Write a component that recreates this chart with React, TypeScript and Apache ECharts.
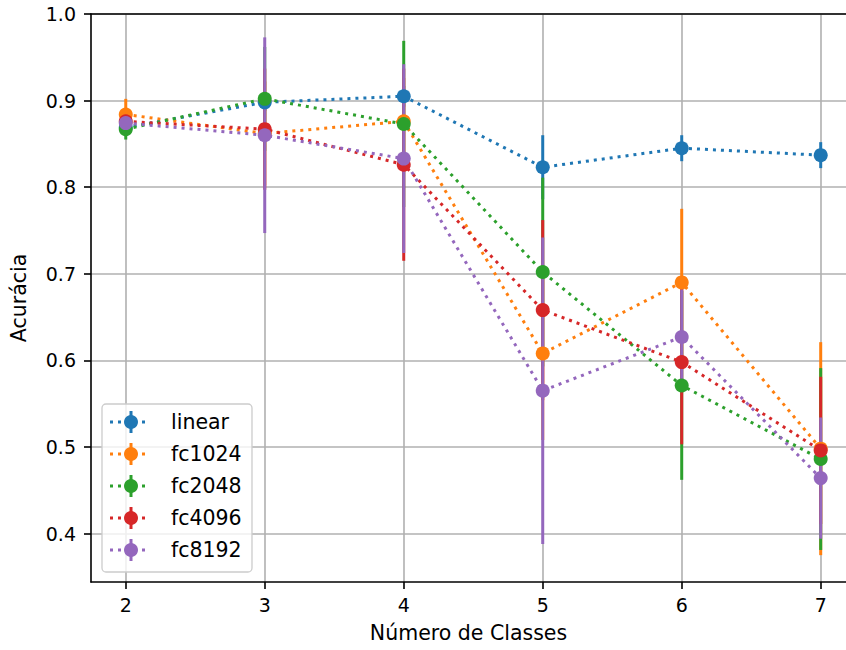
import React, { useEffect, useRef } from "react";
import * as echarts from "echarts";

const xValues = [2, 3, 4, 5, 6, 7];
const xTicks = [2, 3, 4, 5, 6, 7];
const yTicks = [0.4, 0.5, 0.6, 0.7, 0.8, 0.9, 1.0];

const seriesNames = ["linear", "fc1024", "fc2048", "fc4096", "fc8192"];
const seriesColors = ["#1f77b4", "#ff7f0e", "#2ca02c", "#d62728", "#9467bd"];

const linearMean = [0.869, 0.898, 0.905, 0.823, 0.845, 0.837];
const linearErr = [0.008, 0.01, 0.012, 0.037, 0.015, 0.015];
const fc1024Mean = [0.884, 0.862, 0.876, 0.608, 0.69, 0.498];
const fc1024Err = [0.018, 0.06, 0.05, 0.1, 0.085, 0.123];
const fc2048Mean = [0.867, 0.902, 0.873, 0.702, 0.571, 0.486];
const fc2048Err = [0.012, 0.06, 0.096, 0.109, 0.109, 0.105];
const fc4096Mean = [0.876, 0.867, 0.826, 0.658, 0.598, 0.496];
const fc4096Err = [0.01, 0.07, 0.111, 0.104, 0.095, 0.085];
const fc8192Mean = [0.874, 0.86, 0.833, 0.565, 0.627, 0.464];
const fc8192Err = [0.008, 0.113, 0.109, 0.177, 0.055, 0.07];

const means = [linearMean, fc1024Mean, fc2048Mean, fc4096Mean, fc8192Mean];
const errs = [linearErr, fc1024Err, fc2048Err, fc4096Err, fc8192Err];

const FONT = "DejaVu Sans";
const TICK_FS = 19;
const LABEL_FS = 20.5;
const X_MIN = 1.75;
const X_MAX = 7.182;
const Y_MIN = 0.344;
const Y_MAX = 1.0;

export default function App() {
  const ref = useRef<HTMLDivElement>(null);
  useEffect(() => {
    if (!ref.current) return;
    const chart = echarts.init(ref.current, undefined, { renderer: "svg" });

    const errSeries = seriesNames.map((name, si) => ({
      type: "custom",
      name: name + "_err",
      z: 2,
      silent: true,
      data: xValues.map((x, i) => [x, means[si][i] - errs[si][i], means[si][i] + errs[si][i]]),
      encode: { x: 0, y: [1, 2] },
      renderItem: (params: any, api: any) => {
        const x = api.value(0);
        const lo = api.coord([x, api.value(1)]);
        const hi = api.coord([x, api.value(2)]);
        return {
          type: "line",
          shape: { x1: lo[0], y1: lo[1], x2: hi[0], y2: hi[1] },
          style: { stroke: seriesColors[si], lineWidth: 3 },
        };
      },
    }));

    const lineSeries = seriesNames.map((name, si) => ({
      type: "line",
      name,
      z: 3,
      silent: true,
      data: xValues.map((x, i) => [x, means[si][i]]),
      symbol: "circle",
      symbolSize: 14,
      showSymbol: true,
      itemStyle: { color: seriesColors[si] },
      lineStyle: { color: seriesColors[si], width: 3, type: [3, 5], cap: "butt" },
      emphasis: { disabled: true },
    }));

    const legendX = 102;
    const legendY = 404;
    const rowH = 32;
    const legendElems: any[] = [
      {
        type: "rect",
        shape: { x: legendX, y: legendY, width: 150, height: 168, r: 4 },
        style: { fill: "rgba(255,255,255,0.8)", stroke: "#cccccc", lineWidth: 1.3 },
        z: 10,
      },
    ];
    seriesNames.forEach((name, si) => {
      const cy = legendY + 18 + si * rowH;
      const c = seriesColors[si];
      legendElems.push({
        type: "line",
        shape: { x1: 110, y1: cy, x2: 150, y2: cy },
        style: { stroke: c, lineWidth: 3, lineDash: [3, 5] },
        z: 11,
      });
      legendElems.push({
        type: "line",
        shape: { x1: 131, y1: cy - 11, x2: 131, y2: cy + 11 },
        style: { stroke: c, lineWidth: 3 },
        z: 11,
      });
      legendElems.push({
        type: "circle",
        shape: { cx: 131, cy, r: 7 },
        style: { fill: c },
        z: 12,
      });
      legendElems.push({
        type: "text",
        x: 171,
        y: cy,
        style: {
          text: name,
          fontFamily: FONT,
          fontSize: LABEL_FS,
          fill: "#000",
          verticalAlign: "middle",
          align: "left",
        },
        z: 12,
      });
    });

    const axisLineStyle = { color: "#000", width: 1.6 };
    const splitLineStyle = { color: "#b0b0b0", width: 1.6 };

    chart.setOption({
      animation: false,
      grid: {
        left: 91,
        top: 14,
        right: 0,
        bottom: 68,
        show: false,
      },
      xAxis: [
        {
          type: "value",
          min: X_MIN,
          max: X_MAX,
          name: "Número de Classes",
          nameLocation: "middle",
          nameGap: 40,
          nameTextStyle: { fontFamily: FONT, fontSize: LABEL_FS, color: "#000" },
          axisLine: { show: true, onZero: false, lineStyle: axisLineStyle },
          axisTick: { show: true, customValues: xTicks, length: 7, lineStyle: axisLineStyle },
          axisLabel: {
            customValues: xTicks,
            margin: 13,
            fontFamily: FONT,
            fontSize: TICK_FS,
            color: "#000",
            formatter: (v: number) => String(Math.round(v)),
          },
          splitLine: { show: true, lineStyle: splitLineStyle },
        },
        {
          type: "value",
          position: "top",
          min: X_MIN,
          max: X_MAX,
          axisLine: { show: true, onZero: false, lineStyle: axisLineStyle },
          axisTick: { show: false },
          axisLabel: { show: false },
          splitLine: { show: false },
        },
      ],
      yAxis: {
        type: "value",
        min: Y_MIN,
        max: Y_MAX,
        name: "Acurácia",
        nameLocation: "middle",
        nameGap: 62,
        nameTextStyle: { fontFamily: FONT, fontSize: LABEL_FS, color: "#000" },
        axisLine: { show: true, onZero: false, lineStyle: axisLineStyle },
        axisTick: { show: true, customValues: yTicks, length: 7, lineStyle: axisLineStyle },
        axisLabel: {
          customValues: yTicks,
          margin: 15,
          fontFamily: FONT,
          fontSize: TICK_FS,
          color: "#000",
          formatter: (v: number) => v.toFixed(1),
        },
        splitLine: { show: true, lineStyle: splitLineStyle },
      },
      series: [...errSeries, ...lineSeries],
      graphic: { elements: legendElems },
    });
    return () => chart.dispose();
  }, []);
  return (
    <div
      ref={ref}
      style={{ position: "fixed", left: 0, top: 0, width: 846, height: 650, background: "#fff" }}
    />
  );
}
